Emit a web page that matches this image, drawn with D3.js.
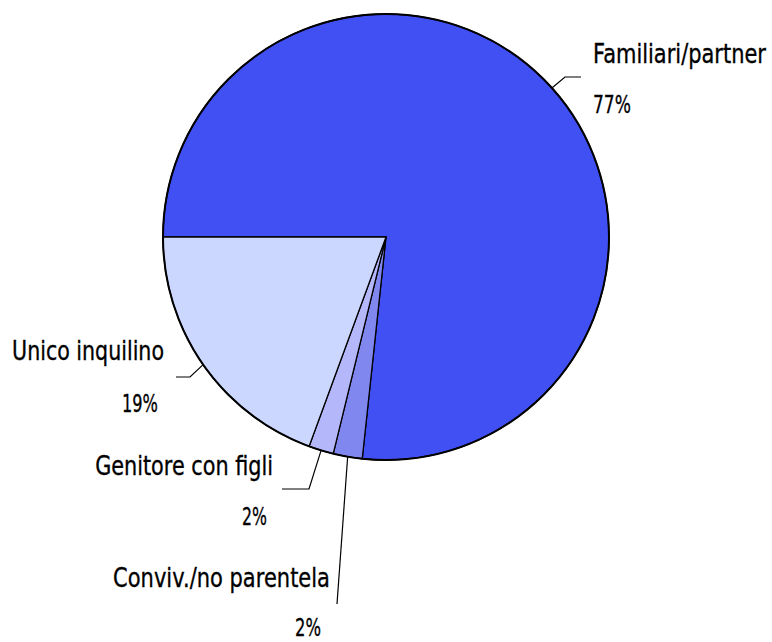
<!DOCTYPE html>
<html><head><meta charset="utf-8">
<script src="https://cdn.jsdelivr.net/npm/d3@7/dist/d3.min.js"></script>
<style>body{margin:0;background:#fff}svg{display:block}text{font-family:"DejaVu Sans",sans-serif;fill:#000;stroke:#000;stroke-width:0.35px}</style>
</head><body>
<script>
const categories = ["Familiari/partner","Conviv./no parentela","Genitore con figli","Unico inquilino"];
const values = [76.7, 2.1, 1.8, 19.4];
const pctLabels = ["77%","2%","2%","19%"];
const colors = ["#4050f2","#8088f0","#b4b8fa","#ccd7ff"];
// label layout (pixels): elbow point, horizontal end x, text x, anchor, name baseline, pct baseline, text widths
const layout = [
  {ex:565, ey:77,  hx:581,  tx:593, anchor:"start", ny:63,  py:113, px:593, nw:173, pw:38},
  {ex:337, ey:604, hx:null, tx:330, anchor:"end",   ny:587, py:636, px:321, nw:217, pw:26},
  {ex:309, ey:489, hx:282,  tx:273, anchor:"end",   ny:475, py:525, px:267, nw:178, pw:25},
  {ex:190, ey:377, hx:176,  tx:164, anchor:"end",   ny:360, py:412, px:158, nw:152, pw:36}
];
const W=772,H=642,cx=386,cy=237,R=223;
const svg=d3.select("body").append("svg").attr("width",W).attr("height",H);
const g=svg.append("g").attr("transform",`translate(${cx},${cy})`);
const pie=d3.pie().sort(null).startAngle(-Math.PI/2).endAngle(1.5*Math.PI)(values);
const arc=d3.arc().innerRadius(0).outerRadius(R);
g.selectAll("path.s").data(pie).join("path").attr("class","s")
  .attr("d",arc).attr("fill",(d,i)=>colors[i]).attr("stroke","#000").attr("stroke-width",1.3).attr("stroke-linejoin","round");
g.append("circle").attr("r",R).attr("fill","none").attr("stroke","#000").attr("stroke-width",2);
function label(x,y,anchor,size,width,str){
  const t=svg.append("text").attr("text-anchor",anchor).attr("font-size",size).text(str);
  const nat=t.node().getComputedTextLength();
  const s=width/nat;
  t.attr("transform",`translate(${x},${y}) scale(${s},1)`);
}
pie.forEach((d,i)=>{
  const a=(d.startAngle+d.endAngle)/2, L=layout[i];
  const pts=[[cx+R*Math.sin(a),cy-R*Math.cos(a)],[L.ex,L.ey]];
  if(L.hx!==null) pts.push([L.hx,L.ey]);
  svg.append("path").attr("d",d3.line()(pts)).attr("fill","none").attr("stroke","#000").attr("stroke-width",1.2);
  label(L.tx,L.ny,L.anchor,26,L.nw,categories[i]);
  label(L.px,L.py,L.anchor,25,L.pw,pctLabels[i]);
});
</script>
</body></html>
